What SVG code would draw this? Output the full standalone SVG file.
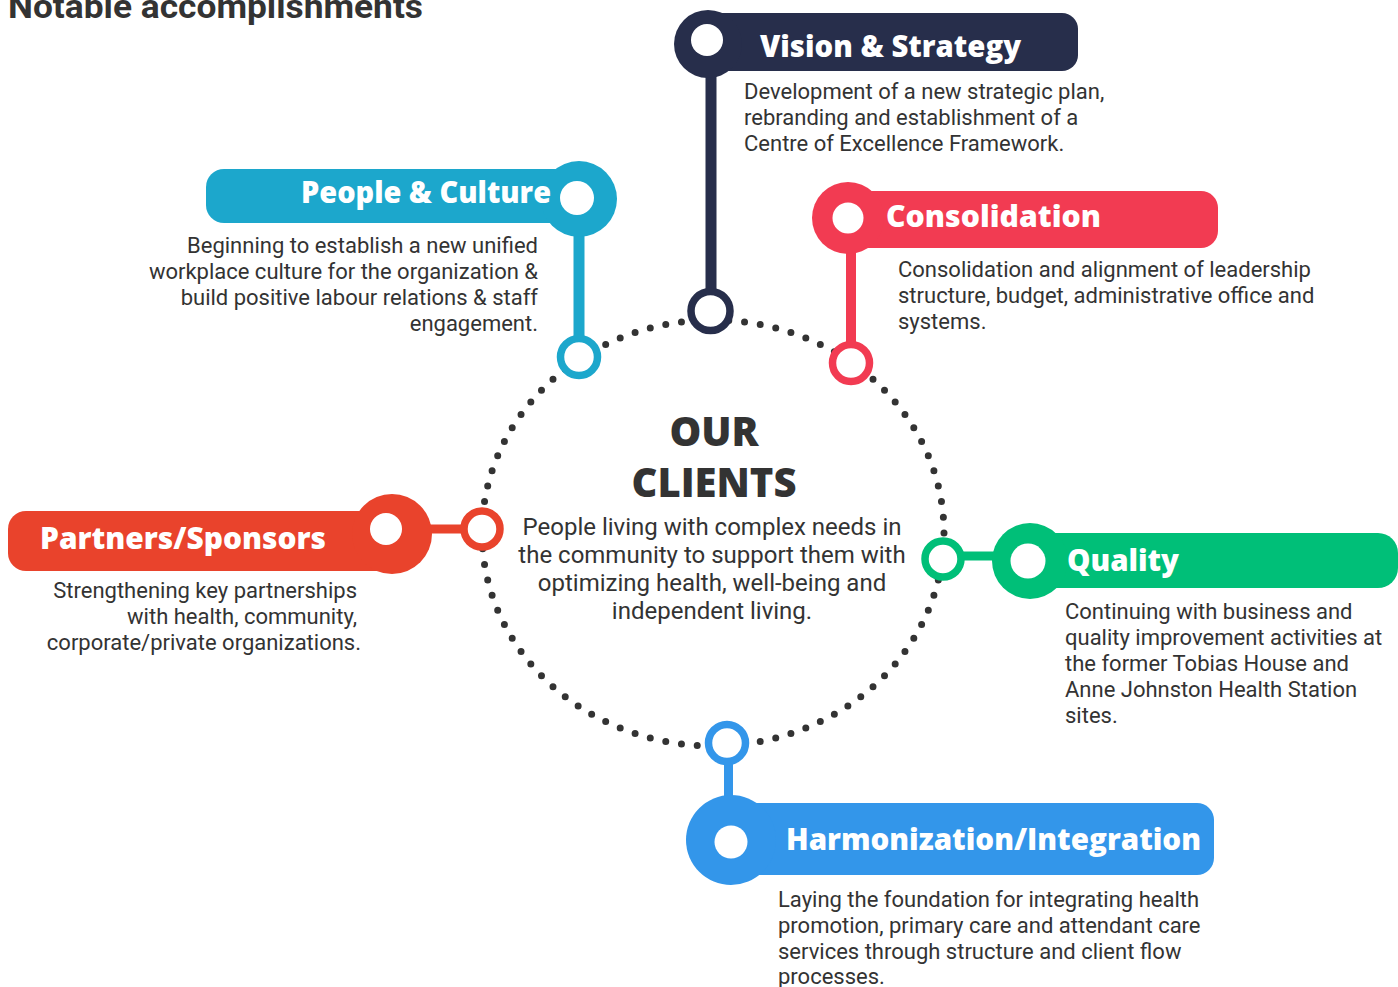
<svg xmlns="http://www.w3.org/2000/svg" width="1398" height="987" viewBox="0 0 1398 987">
  <style>
    .title { font-family: "Roboto", "Liberation Sans", sans-serif; font-weight: 700; font-size: 34px; fill: #333333; }
    .head { font-family: "Open Sans", "Lato", sans-serif; font-weight: 800; font-size: 30px; fill: #ffffff; }
    .desc { font-family: "Roboto", "Liberation Sans", sans-serif; font-size: 22px; fill: #333333; }
    .center-head { font-family: "Open Sans", "Lato", sans-serif; font-weight: 800; font-size: 40px; fill: #333333; text-anchor: middle; }
    .center-desc { font-family: "Roboto", "Liberation Sans", sans-serif; font-size: 24px; fill: #333333; text-anchor: middle; }
    .dot { fill: #ffffff; }
    .ring { fill: #ffffff; stroke-width: 7.5; }
    .navy { fill: #272e4b; } .navy-s { stroke: #272e4b; }
    .teal { fill: #1ca7cc; } .teal-s { stroke: #1ca7cc; }
    .crimson { fill: #f23b52; } .crimson-s { stroke: #f23b52; }
    .orange { fill: #e9432c; } .orange-s { stroke: #e9432c; }
    .green { fill: #00bf78; } .green-s { stroke: #00bf78; }
    .blue { fill: #3396ea; } .blue-s { stroke: #3396ea; }
  </style>

  <text class="title" x="8" y="18" textLength="415" lengthAdjust="spacingAndGlyphs">Notable accomplishments</text>

  <!-- dotted orbit around the centre -->
  <ellipse cx="713" cy="533" rx="231" ry="213" fill="none" stroke="#333333" stroke-width="7" stroke-linecap="round" pathLength="88" stroke-dasharray="0 1"/>

  <!-- stems joining each heading to its orbit ring -->
  <g id="connectors">
    <rect x="705.5" y="60" width="11" height="235" class="navy"/>
    <rect x="573.5" y="215" width="11" height="125" class="teal"/>
    <rect x="846" y="235" width="10" height="112" class="crimson"/>
    <rect x="415" y="524.5" width="50" height="9" class="orange"/>
    <rect x="955" y="551.5" width="50" height="9" class="green"/>
    <rect x="724" y="758" width="9" height="50" class="blue"/>
  </g>

  <g id="center">
    <text class="center-head" x="714" y="446">OUR</text>
    <text class="center-head" x="714" y="497" textLength="165" lengthAdjust="spacingAndGlyphs">CLIENTS</text>
    <text class="center-desc" x="712" y="535">People living with complex needs in</text>
    <text class="center-desc" x="712" y="563">the community to support them with</text>
    <text class="center-desc" x="712" y="591">optimizing health, well-being and</text>
    <text class="center-desc" x="712" y="619">independent living.</text>
  </g>

  <g id="vision-strategy">
    <circle cx="710.5" cy="311" r="19.5" class="ring navy-s" stroke-width="10"/>
    <rect x="700" y="13" width="378" height="58" rx="16" class="navy"/>
    <circle cx="708" cy="44" r="34" class="navy"/>
    <circle cx="707" cy="40" r="16" class="dot"/>
    <text class="head" x="760" y="57" textLength="261" lengthAdjust="spacingAndGlyphs">Vision &amp; Strategy</text>
    <text class="desc" x="744" y="99">Development of a new strategic plan,</text>
    <text class="desc" x="744" y="125">rebranding and establishment of a</text>
    <text class="desc" x="744" y="151">Centre of Excellence Framework.</text>
  </g>

  <g id="people-culture">
    <circle cx="579" cy="357" r="18.5" class="ring teal-s"/>
    <rect x="206" y="169" width="390" height="54" rx="18" class="teal"/>
    <circle cx="579" cy="199" r="38" class="teal"/>
    <circle cx="577" cy="198" r="17" class="dot"/>
    <text class="head" x="551" y="203" text-anchor="end" textLength="250" lengthAdjust="spacingAndGlyphs">People &amp; Culture</text>
    <text class="desc" x="538" y="253" text-anchor="end">Beginning to establish a new unified</text>
    <text class="desc" x="538" y="279" text-anchor="end">workplace culture for the organization &amp;</text>
    <text class="desc" x="538" y="305" text-anchor="end">build positive labour relations &amp; staff</text>
    <text class="desc" x="538" y="331" text-anchor="end">engagement.</text>
  </g>

  <g id="consolidation">
    <circle cx="851" cy="363" r="18.5" class="ring crimson-s"/>
    <rect x="840" y="191" width="378" height="57" rx="17" class="crimson"/>
    <circle cx="848" cy="218" r="36" class="crimson"/>
    <circle cx="848" cy="218" r="15.5" class="dot"/>
    <text class="head" x="886" y="227" textLength="215" lengthAdjust="spacingAndGlyphs">Consolidation</text>
    <text class="desc" x="898" y="277">Consolidation and alignment of leadership</text>
    <text class="desc" x="898" y="303">structure, budget, administrative office and</text>
    <text class="desc" x="898" y="329">systems.</text>
  </g>

  <g id="partners-sponsors">
    <circle cx="482" cy="529" r="18" class="ring orange-s"/>
    <rect x="8" y="511" width="400" height="60" rx="18" class="orange"/>
    <circle cx="392" cy="534" r="40" class="orange"/>
    <circle cx="386" cy="529" r="16" class="dot"/>
    <text class="head" x="40" y="549" textLength="286" lengthAdjust="spacingAndGlyphs">Partners/Sponsors</text>
    <text class="desc" x="357" y="598" text-anchor="end">Strengthening key partnerships</text>
    <text class="desc" x="357" y="624" text-anchor="end">with health, community,</text>
    <text class="desc" x="361" y="650" text-anchor="end">corporate/private organizations.</text>
  </g>

  <g id="quality">
    <circle cx="943" cy="559" r="18" class="ring green-s" stroke-width="8"/>
    <rect x="1020" y="533" width="378" height="55" rx="20" class="green"/>
    <circle cx="1030" cy="561" r="38" class="green"/>
    <circle cx="1028" cy="561" r="17.5" class="dot"/>
    <text class="head" x="1067" y="571" textLength="112" lengthAdjust="spacingAndGlyphs">Quality</text>
    <text class="desc" x="1065" y="619">Continuing with business and</text>
    <text class="desc" x="1065" y="645">quality improvement activities at</text>
    <text class="desc" x="1065" y="671">the former Tobias House and</text>
    <text class="desc" x="1065" y="697">Anne Johnston Health Station</text>
    <text class="desc" x="1065" y="723">sites.</text>
  </g>

  <g id="harmonization-integration">
    <circle cx="727" cy="743" r="18.5" class="ring blue-s" stroke-width="8"/>
    <rect x="725" y="803" width="489" height="72" rx="17" class="blue"/>
    <circle cx="731" cy="840" r="45" class="blue"/>
    <circle cx="731" cy="842" r="16.5" class="dot"/>
    <text class="head" x="786" y="850" textLength="415" lengthAdjust="spacingAndGlyphs">Harmonization/Integration</text>
    <text class="desc" x="778" y="907">Laying the foundation for integrating health</text>
    <text class="desc" x="778" y="933">promotion, primary care and attendant care</text>
    <text class="desc" x="778" y="959">services through structure and client flow</text>
    <text class="desc" x="778" y="984">processes.</text>
  </g>
</svg>
